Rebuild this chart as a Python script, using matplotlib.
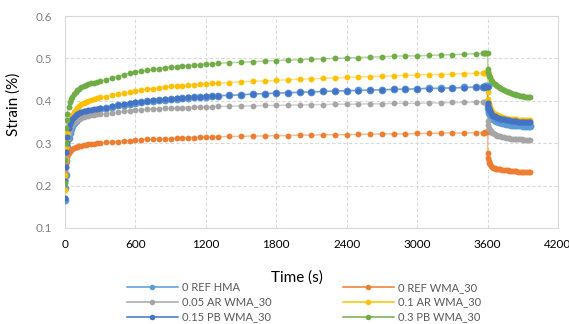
import matplotlib
matplotlib.use("Agg")
import matplotlib.pyplot as plt

plt.rcParams['font.family'] = ['Lato', 'DejaVu Sans']

# sampling times (s): dense at the start, 50 s steps to 1300 s, 100 s steps to 3600 s
t_load = [0, 2, 5, 10, 15, 20, 30, 40, 50, 60, 75, 90, 105, 120, 140, 160, 180, 200, 225, 250, 275, 300,
          350, 400, 450, 500, 550, 600, 650, 700, 750, 800, 850, 900, 950, 1000, 1050, 1100, 1150, 1200, 1250, 1300,
          1400, 1500, 1600, 1700, 1800, 1900, 2000, 2100, 2200, 2300, 2400, 2500, 2600, 2700, 2800, 2900, 3000,
          3100, 3200, 3300, 3400, 3500, 3560, 3570, 3580, 3590, 3600]
# recovery after unloading
t_rec = [3601, 3605, 3610, 3615, 3620, 3630, 3640, 3650, 3660, 3670, 3680, 3695, 3710, 3725, 3740, 3755,
         3770, 3785, 3800, 3815, 3830, 3845, 3860, 3875, 3890, 3905, 3920, 3935, 3950, 3960]

ref_hma_load = [0.165, 0.195, 0.225, 0.258, 0.278, 0.292, 0.312, 0.324, 0.333, 0.340, 0.347, 0.352, 0.356, 0.360,
                0.364, 0.367, 0.370, 0.372, 0.375, 0.377, 0.379, 0.380,
                0.383, 0.386, 0.389, 0.391, 0.393, 0.395, 0.397, 0.399, 0.400, 0.402, 0.403, 0.404, 0.405, 0.406,
                0.407, 0.408, 0.409, 0.410, 0.411, 0.412,
                0.413, 0.414, 0.416, 0.417, 0.418, 0.419, 0.420, 0.421, 0.422, 0.423, 0.424, 0.425, 0.426, 0.426,
                0.427, 0.428, 0.429, 0.430, 0.430, 0.431, 0.432, 0.433, 0.433, 0.433, 0.434, 0.434, 0.434]
ref_hma_rec = [0.390, 0.382, 0.376, 0.372, 0.368, 0.363, 0.360, 0.357, 0.355, 0.353, 0.352, 0.350, 0.349, 0.348,
               0.347, 0.346, 0.345, 0.345, 0.344, 0.344, 0.343, 0.343, 0.342, 0.342, 0.342, 0.341, 0.341, 0.341,
               0.341, 0.341]

ref_wma_load = [0.215, 0.235, 0.250, 0.262, 0.268, 0.272, 0.277, 0.281, 0.284, 0.286, 0.289, 0.291, 0.292, 0.293,
                0.294, 0.295, 0.296, 0.297, 0.298, 0.299, 0.300, 0.300,
                0.302, 0.303, 0.304, 0.305, 0.306, 0.307, 0.308, 0.309, 0.309, 0.310, 0.311, 0.311, 0.312, 0.312,
                0.313, 0.313, 0.314, 0.314, 0.315, 0.315,
                0.316, 0.316, 0.317, 0.317, 0.318, 0.318, 0.319, 0.319, 0.320, 0.320, 0.320, 0.321, 0.321, 0.322,
                0.322, 0.322, 0.323, 0.323, 0.324, 0.324, 0.324, 0.325, 0.325, 0.325, 0.326, 0.326, 0.326]
ref_wma_rec = [0.277, 0.266, 0.258, 0.253, 0.250, 0.246, 0.244, 0.242, 0.241, 0.240, 0.239, 0.238, 0.238, 0.237,
               0.237, 0.236, 0.236, 0.235, 0.235, 0.234, 0.234, 0.234, 0.233, 0.233, 0.233, 0.233, 0.233, 0.232,
               0.232, 0.232]

ar005_load = [0.215, 0.240, 0.265, 0.290, 0.303, 0.312, 0.325, 0.333, 0.339, 0.344, 0.349, 0.353, 0.356, 0.358,
              0.360, 0.362, 0.363, 0.364, 0.366, 0.367, 0.368, 0.368,
              0.370, 0.372, 0.373, 0.375, 0.376, 0.378, 0.379, 0.380, 0.381, 0.381, 0.382, 0.383, 0.383, 0.384,
              0.384, 0.385, 0.385, 0.386, 0.386, 0.387,
              0.387, 0.388, 0.388, 0.389, 0.389, 0.390, 0.390, 0.391, 0.391, 0.392, 0.392, 0.392, 0.393, 0.393,
              0.394, 0.394, 0.394, 0.395, 0.395, 0.396, 0.396, 0.397, 0.397, 0.397, 0.397, 0.397, 0.397]
ar005_rec = [0.352, 0.343, 0.337, 0.334, 0.332, 0.328, 0.325, 0.323, 0.321, 0.320, 0.318, 0.317, 0.316, 0.315,
             0.314, 0.313, 0.313, 0.312, 0.311, 0.311, 0.310, 0.310, 0.309, 0.309, 0.309, 0.308, 0.308, 0.308,
             0.307, 0.307]

ar01_load = [0.190, 0.225, 0.260, 0.290, 0.310, 0.323, 0.340, 0.352, 0.360, 0.366, 0.373, 0.379, 0.384, 0.388,
             0.392, 0.395, 0.398, 0.400, 0.403, 0.405, 0.407, 0.408,
             0.410, 0.413, 0.416, 0.418, 0.421, 0.423, 0.425, 0.427, 0.429, 0.431, 0.432, 0.434, 0.435, 0.436,
             0.437, 0.438, 0.439, 0.440, 0.441, 0.442,
             0.443, 0.445, 0.446, 0.447, 0.448, 0.450, 0.451, 0.452, 0.453, 0.454, 0.455, 0.456, 0.457, 0.458,
             0.459, 0.460, 0.461, 0.462, 0.462, 0.463, 0.464, 0.465, 0.466, 0.466, 0.466, 0.467, 0.467]
ar01_rec = [0.420, 0.405, 0.395, 0.389, 0.385, 0.379, 0.375, 0.372, 0.370, 0.368, 0.366, 0.364, 0.363, 0.361,
            0.360, 0.359, 0.358, 0.358, 0.357, 0.357, 0.356, 0.356, 0.355, 0.355, 0.355, 0.355, 0.354, 0.354,
            0.354, 0.354]

pb015_load = [0.170, 0.210, 0.245, 0.280, 0.300, 0.315, 0.335, 0.345, 0.352, 0.357, 0.362, 0.366, 0.369, 0.372,
              0.374, 0.376, 0.377, 0.378, 0.379, 0.380, 0.381, 0.382,
              0.384, 0.387, 0.390, 0.392, 0.394, 0.397, 0.398, 0.400, 0.401, 0.403, 0.404, 0.405, 0.406, 0.407,
              0.408, 0.409, 0.410, 0.411, 0.411, 0.412,
              0.413, 0.414, 0.416, 0.417, 0.418, 0.419, 0.420, 0.421, 0.422, 0.423, 0.424, 0.424, 0.425, 0.426,
              0.427, 0.427, 0.428, 0.429, 0.429, 0.430, 0.431, 0.432, 0.432, 0.432, 0.432, 0.433, 0.433]
pb015_rec = [0.395, 0.388, 0.382, 0.378, 0.375, 0.371, 0.367, 0.365, 0.363, 0.362, 0.360, 0.359, 0.357, 0.356,
             0.356, 0.355, 0.354, 0.354, 0.353, 0.353, 0.352, 0.352, 0.351, 0.351, 0.351, 0.351, 0.350, 0.350,
             0.350, 0.350]

pb03_load = [0.205, 0.260, 0.300, 0.335, 0.355, 0.368, 0.385, 0.396, 0.404, 0.409, 0.415, 0.420, 0.425, 0.429,
             0.432, 0.435, 0.437, 0.439, 0.441, 0.443, 0.445, 0.446,
             0.450, 0.454, 0.457, 0.461, 0.465, 0.468, 0.470, 0.472, 0.474, 0.476, 0.478, 0.479, 0.480, 0.482,
             0.483, 0.484, 0.485, 0.486, 0.487, 0.488,
             0.490, 0.491, 0.492, 0.494, 0.495, 0.496, 0.497, 0.498, 0.499, 0.500, 0.501, 0.502, 0.503, 0.504,
             0.505, 0.506, 0.506, 0.507, 0.508, 0.509, 0.510, 0.511, 0.512, 0.512, 0.512, 0.512, 0.513]
pb03_rec = [0.475, 0.468, 0.462, 0.458, 0.455, 0.450, 0.446, 0.443, 0.440, 0.438, 0.435, 0.432, 0.430, 0.427,
            0.425, 0.423, 0.421, 0.420, 0.418, 0.417, 0.415, 0.414, 0.413, 0.412, 0.411, 0.411, 0.410, 0.409,
            0.409, 0.408]

labels = ['0 REF HMA', '0 REF WMA_30', '0.05 AR WMA_30', '0.1 AR WMA_30', '0.15 PB WMA_30', '0.3 PB WMA_30']
colors = ['#5B9BD5', '#ED7D31', '#A5A5A5', '#FFC000', '#4472C4', '#70AD47']
sizes = [5.6, 4.2, 4.2, 4.2, 4.4, 4.2]
series = [(ref_hma_load, ref_hma_rec), (ref_wma_load, ref_wma_rec), (ar005_load, ar005_rec),
          (ar01_load, ar01_rec), (pb015_load, pb015_rec), (pb03_load, pb03_rec)]

fig = plt.figure(figsize=(5.69, 3.24), dpi=100)
ax = fig.add_axes([0.1142, 0.2963, 0.8665, 0.6543])

handles = []
t_all = t_load + t_rec
for (ld, rc), lab, col, ms in zip(series, labels, colors, sizes):
    ax.plot(t_all, ld + rc, '-', color=col, lw=1.1, alpha=0.5, zorder=2)
    ax.plot(t_all, ld + rc, 'o', color=col, ms=ms, mec='none', zorder=3)
    h, = ax.plot([], [], '-o', color=col, lw=1.1, ms=4, mec='none', label=lab)
    handles.append(h)

ax.set_xlim(0, 4200)
ax.set_ylim(0.1, 0.6)
ax.set_xticks(range(0, 4201, 600))
ax.set_yticks([0.1, 0.2, 0.3, 0.4, 0.5, 0.6])
ax.yaxis.set_major_formatter(matplotlib.ticker.FormatStrFormatter('%g'))
ax.grid(True, color='#D9D9D9', ls=(0, (3, 2)), lw=0.8)
ax.set_axisbelow(True)
for s in ax.spines.values():
    s.set_color('#D9D9D9')
    s.set_linewidth(0.8)
ax.tick_params(axis='both', length=0, labelsize=8.5)
ax.tick_params(axis='x', pad=8, labelcolor='black')
ax.tick_params(axis='y', pad=9, labelcolor='#7F7F7F')

ax.set_xlabel('Time (s)', fontsize=11, color='black')
ax.xaxis.set_label_coords(0.47, -0.20)
ax.set_ylabel('Strain (%)', fontsize=11, color='black')
ax.yaxis.set_label_coords(-0.09, 0.585)

# legend laid out in rows: column-major order for ncol=2
order = [0, 2, 4, 1, 3, 5]
ax.legend([handles[i] for i in order], [labels[i] for i in order], ncol=2, frameon=False,
          fontsize=8, handlelength=4.6, handletextpad=0.4, columnspacing=6.4, labelspacing=0.35,
          loc='upper center', bbox_to_anchor=(0.485, -0.232), borderaxespad=0, labelcolor='#595959')

fig.savefig('out.png', dpi=100)
